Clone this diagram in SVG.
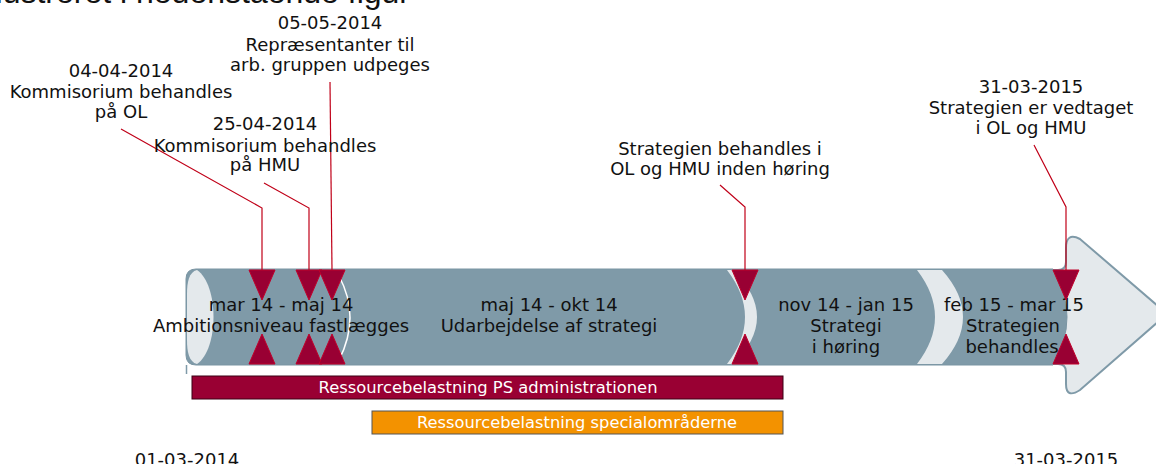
<svg xmlns="http://www.w3.org/2000/svg" width="1156" height="464" viewBox="0 0 1156 464">
  <style>
    .lbl { font-family: "DejaVu Sans", Verdana, sans-serif; font-size: 18px; fill: #111; text-anchor: middle; }
    .bar { font-family: "DejaVu Sans", Tahoma, sans-serif; font-size: 15px; fill: #fff; text-anchor: middle; }
    .lead { fill: none; stroke: #c00018; stroke-width: 1.2; }
    .tri { fill: #990033; stroke: #c0002a; stroke-width: 1; }
    .light { fill: #e4e9ec; }
  </style>
  <defs>
    <polygon id="down" class="tri" points="-13,0 13,0 0,30"/>
    <polygon id="up" class="tri" points="-13,30 13,30 0,0"/>
  </defs>

  <rect width="1156" height="464" fill="#ffffff"/>

  <text x="410" y="3" font-family="Liberation Sans, Arial, sans-serif" font-size="32" fill="#111" text-anchor="end">illustreret i nedenstående figur</text>

  <g id="arrow">
    <path d="M 1040,270 L 1058,270 Q 1066,270 1066,262 L 1066,248 Q 1066,232 1080,239 L 1159,307 Q 1166,314 1159,321 L 1080,390 Q 1066,399 1066,384 L 1066,372 Q 1066,364 1058,364 L 1040,364 Z" fill="#e4e9ec" stroke="#7f9aa8" stroke-width="2"/>
  </g>

  <g id="tube">
    <path d="M 196,269 L 1053,269 Q 1081,317 1053,365 L 196,365 Q 186,365 186,355 L 186,279 Q 186,269 196,269 Z" fill="#7f9aa8" stroke="#7a95a3" stroke-width="1"/>
    <path class="light" d="M 197,270 C 219,285 219,349 197,364 C 189,362 187,352 187,340 L 187,294 C 187,282 189,272 197,270 Z"/>
    <path d="M 339,276 Q 361,317 339,360" fill="none" stroke="#ffffff" stroke-width="1.5"/>
    <path class="light" d="M 727,270 L 733,270 Q 781,317 733,364 L 727,364 Q 763,317 727,270 Z"/>
    <path class="light" d="M 917,270 L 942,270 Q 984,317 942,364 L 917,364 Q 953,317 917,270 Z"/>
    <line x1="186.5" y1="365" x2="186.5" y2="374" stroke="#7f9aa8" stroke-width="1.5"/>
  </g>

  <g id="phase1">
    <text class="lbl" x="281" y="311">mar 14 - maj 14</text>
    <text class="lbl" x="281" y="332">Ambitionsniveau fastlægges</text>
  </g>
  <g id="phase2">
    <text class="lbl" x="549" y="311">maj 14 - okt 14</text>
    <text class="lbl" x="549" y="332">Udarbejdelse af strategi</text>
  </g>
  <g id="phase3">
    <text class="lbl" x="846" y="311">nov 14 - jan 15</text>
    <text class="lbl" x="846" y="332">Strategi</text>
    <text class="lbl" x="846" y="353">i høring</text>
  </g>
  <g id="phase4">
    <text class="lbl" x="1014" y="311">feb 15 - mar 15</text>
    <text class="lbl" x="1013" y="332">Strategien</text>
    <text class="lbl" x="1012" y="353">behandles</text>
  </g>

  <g id="connectors">
    <polyline class="lead" points="121,129 262,208 262,270"/>
    <polyline class="lead" points="264,183 309,208 309,270"/>
    <polyline class="lead" points="330,82 332,270"/>
    <polyline class="lead" points="720,185 745,207 745,270"/>
    <polyline class="lead" points="1034,145 1066,207 1066,270"/>
  </g>

  <g id="markers">
    <use href="#down" x="262" y="270"/><use href="#up" x="262" y="334"/>
    <use href="#down" x="309" y="270"/><use href="#up" x="309" y="334"/>
    <use href="#down" x="332" y="270"/><use href="#up" x="332" y="334"/>
    <use href="#down" x="745" y="270"/><use href="#up" x="745" y="334"/>
    <use href="#down" x="1066" y="270"/><use href="#up" x="1066" y="334"/>
  </g>

  <g id="m-04-04">
    <text class="lbl" x="121" y="77">04-04-2014</text>
    <text class="lbl" x="121" y="98">Kommisorium behandles</text>
    <text class="lbl" x="121" y="118">på OL</text>
  </g>
  <g id="m-25-04">
    <text class="lbl" x="265" y="130">25-04-2014</text>
    <text class="lbl" x="265" y="152">Kommisorium behandles</text>
    <text class="lbl" x="265" y="171">på HMU</text>
  </g>
  <g id="m-05-05">
    <text class="lbl" x="330" y="29">05-05-2014</text>
    <text class="lbl" x="330" y="51">Repræsentanter til</text>
    <text class="lbl" x="330" y="71">arb. gruppen udpeges</text>
  </g>
  <g id="m-hoering">
    <text class="lbl" x="720" y="155">Strategien behandles i</text>
    <text class="lbl" x="720" y="175">OL og HMU inden høring</text>
  </g>
  <g id="m-31-03">
    <text class="lbl" x="1031" y="93">31-03-2015</text>
    <text class="lbl" x="1031" y="114">Strategien er vedtaget</text>
    <text class="lbl" x="1031" y="134">i OL og HMU</text>
  </g>

  <g id="bar-ps">
    <rect x="192" y="376" width="591" height="23" fill="#990033" stroke="#3a0014" stroke-width="1"/>
    <text class="bar" x="488" y="393" textLength="339" lengthAdjust="spacingAndGlyphs">Ressourcebelastning PS administrationen</text>
  </g>
  <g id="bar-special">
    <rect x="372" y="411" width="411" height="23" fill="#f39200" stroke="#555555" stroke-width="1"/>
    <text class="bar" x="577" y="428" textLength="320" lengthAdjust="spacingAndGlyphs">Ressourcebelastning specialområderne</text>
  </g>

  <g id="dates">
    <text class="lbl" x="187" y="466">01-03-2014</text>
    <text class="lbl" x="1066" y="466">31-03-2015</text>
  </g>
</svg>
